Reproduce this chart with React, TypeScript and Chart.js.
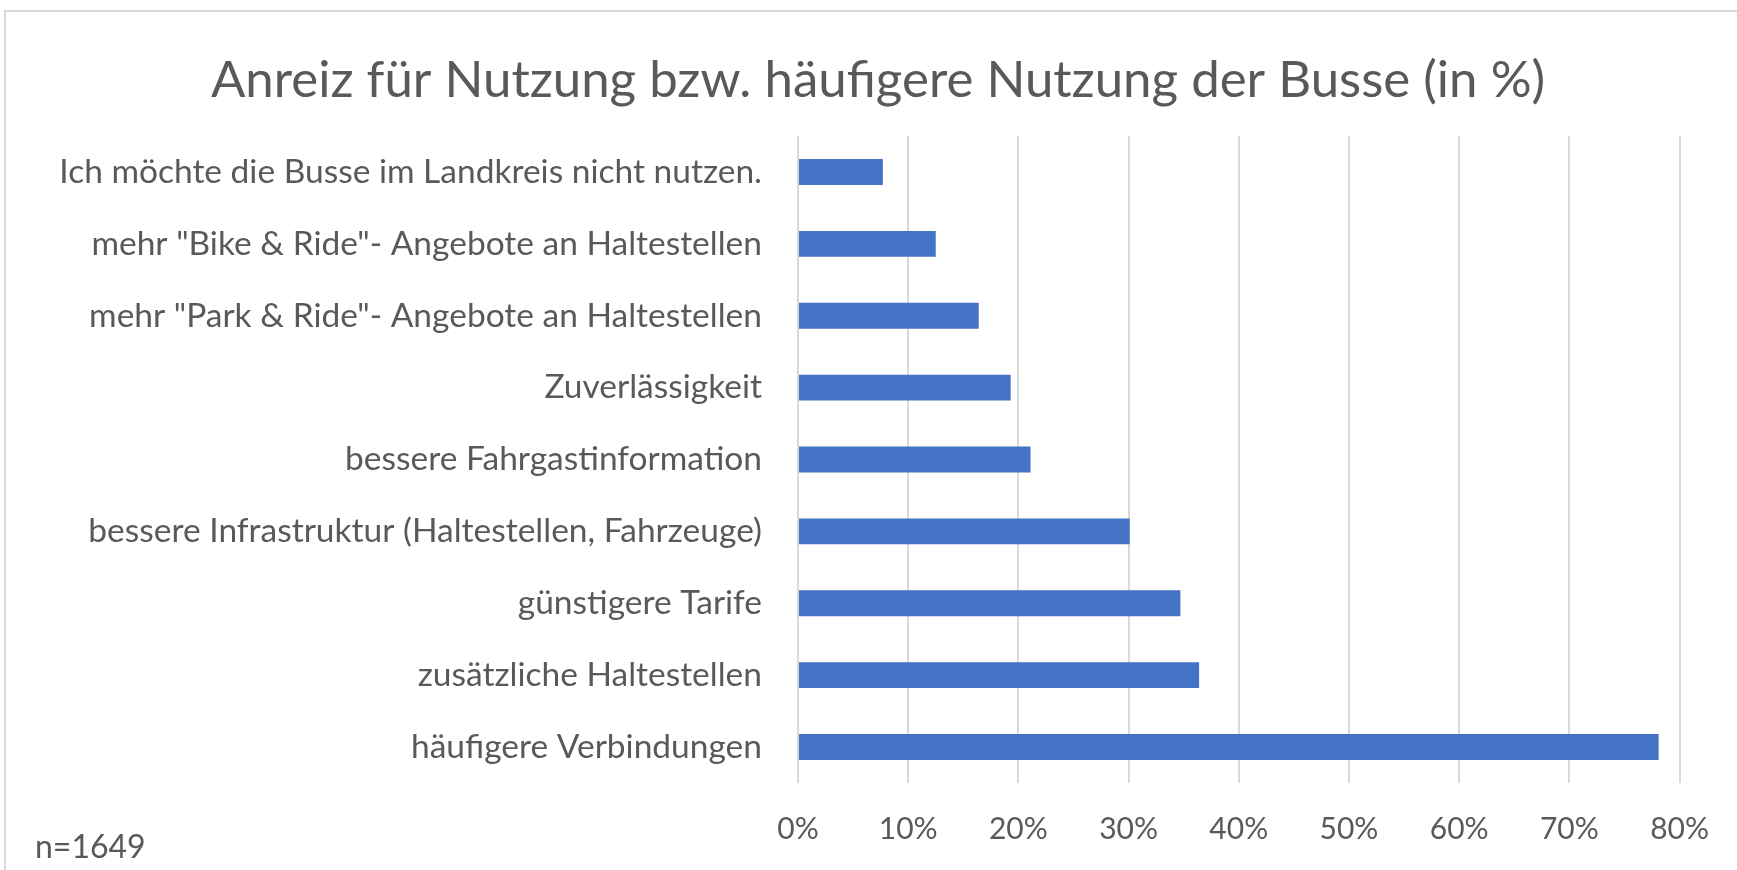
import React, { useEffect, useRef } from "react";
import { Chart, registerables } from "chart.js";

Chart.register(...registerables);

const categories: string[] = [
  "Ich möchte die Busse im Landkreis nicht nutzen.",
  "mehr \"Bike & Ride\"- Angebote an Haltestellen",
  "mehr \"Park & Ride\"- Angebote an Haltestellen",
  "Zuverlässigkeit",
  "bessere Fahrgastinformation",
  "bessere Infrastruktur (Haltestellen, Fahrzeuge)",
  "günstigere Tarife",
  "zusätzliche Haltestellen",
  "häufigere Verbindungen",
];

const shares: number[] = [7.7, 12.5, 16.4, 19.3, 21.1, 30.1, 34.7, 36.4, 78.1];

const titleText = "Anreiz für Nutzung bzw. häufigere Nutzung der Busse (in %)";
const noteText = "n=1649";
const axisMax = 80;
const axisStep = 10;

const FONT = "Lato, 'Open Sans', sans-serif";
const TEXT = "#595959";
const GRID = "#D9D9D9";
const BAR = "#4472C4";

const framePlugin = {
  id: "frame",
  beforeDraw(chart: any) {
    const ctx = chart.ctx;
    ctx.save();
    ctx.fillStyle = "#ffffff";
    ctx.fillRect(0, 0, chart.width, chart.height);
    ctx.strokeStyle = GRID;
    ctx.lineWidth = 2;
    ctx.beginPath();
    ctx.moveTo(5, chart.height + 5);
    ctx.lineTo(5, 11);
    ctx.lineTo(chart.width + 5, 11);
    ctx.stroke();
    ctx.restore();
  },
  afterDraw(chart: any) {
    const ctx = chart.ctx;
    ctx.save();
    ctx.fillStyle = TEXT;
    ctx.textBaseline = "middle";
    ctx.textAlign = "center";
    ctx.font = `51px ${FONT}`;
    ctx.fillText(titleText, 878, 81);
    ctx.font = `32px ${FONT}`;
    ctx.textAlign = "left";
    ctx.fillText(noteText, 35, 848);
    ctx.restore();
  },
};

export default function App() {
  const canvasRef = useRef<HTMLCanvasElement | null>(null);

  useEffect(() => {
    if (!canvasRef.current) return;
    const chart = new Chart(canvasRef.current, {
      type: "bar",
      data: {
        labels: categories,
        datasets: [
          {
            data: shares,
            backgroundColor: BAR,
            borderWidth: 0,
            barPercentage: 0.36,
            categoryPercentage: 1,
          },
        ],
      },
      options: {
        indexAxis: "y",
        animation: false,
        responsive: false,
        devicePixelRatio: 1,
        layout: { padding: { left: 10, right: 56, top: 136, bottom: 0 } },
        plugins: {
          legend: { display: false },
          tooltip: { enabled: false },
          title: { display: false },
        },
        scales: {
          x: {
            min: 0,
            max: axisMax,
            grid: { color: GRID, lineWidth: 2, drawTicks: false },
            border: { display: false },
            ticks: {
              stepSize: axisStep,
              color: TEXT,
              padding: 28,
              font: { family: FONT, size: 30 },
              callback: (v: any) => `${v}%`,
            },
            afterFit: (scale: any) => {
              scale.height = 87;
            },
          },
          y: {
            grid: { display: false, drawTicks: false },
            border: { display: false },
            ticks: {
              color: TEXT,
              padding: 36,
              font: { family: FONT, size: 33.5 },
              autoSkip: false,
            },
            afterFit: (scale: any) => {
              scale.width = 788;
            },
          },
        },
      },
      plugins: [framePlugin],
    });
    return () => chart.destroy();
  }, []);

  return (
    <div style={{ position: "fixed", left: 0, top: 0, width: 1737, height: 870, background: "#fff" }}>
      <canvas ref={canvasRef} width={1737} height={870} style={{ display: "block" }} />
    </div>
  );
}
